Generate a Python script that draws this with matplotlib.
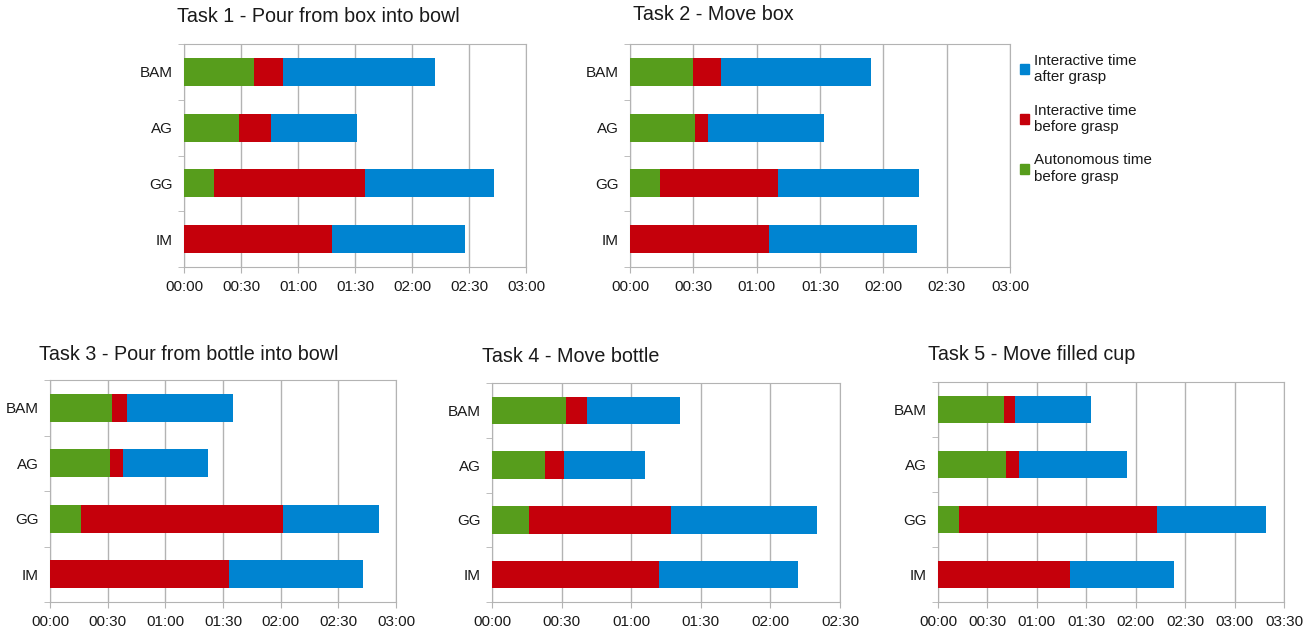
import matplotlib
matplotlib.use("Agg")
import matplotlib.pyplot as plt
from matplotlib.patches import Patch
from matplotlib.ticker import FuncFormatter, MultipleLocator, FixedLocator

plt.rcParams['font.family'] = ['Liberation Sans', 'DejaVu Sans']

# participants (top to bottom)
participants = ["BAM", "AG", "GG", "IM"]

# durations in seconds: autonomous before grasp, interactive before grasp, interactive after grasp
task1_auto = [37, 29, 16, 0]
task1_before = [15, 17, 79, 78]
task1_after = [80, 45, 68, 70]

task2_auto = [30, 31, 14, 0]
task2_before = [13, 6, 56, 66]
task2_after = [71, 55, 67, 70]

task3_auto = [32, 31, 16, 0]
task3_before = [8, 7, 105, 93]
task3_after = [55, 44, 50, 70]

task4_auto = [32, 23, 16, 0]
task4_before = [9, 8, 61, 72]
task4_after = [40, 35, 63, 60]

task5_auto = [40, 41, 13, 0]
task5_before = [7, 8, 120, 80]
task5_after = [46, 66, 66, 63]

titles = ["Task 1 - Pour from box into bowl", "Task 2 - Move box",
          "Task 3 - Pour from bottle into bowl", "Task 4 - Move bottle",
          "Task 5 - Move filled cup"]
xmax = [180, 180, 180, 150, 210]

green = "#579d1c"
red = "#c5000b"
blue = "#0084d1"
grey = "#b3b3b3"
txt = "#1a1a1a"

W, H = 1316, 630
fig = plt.figure(figsize=(W / 100, H / 100), dpi=100)


def px_rect(x0, y0, x1, y1):
    return [x0 / W, 1 - y1 / H, (x1 - x0) / W, (y1 - y0) / H]


axes_px = [(184, 44, 526, 267), (630, 44, 1010, 267),
           (50, 380, 396, 602), (492, 383, 840, 602), (938, 382, 1284, 602)]
title_px = [(177, 17), (633, 15), (39, 354), (482, 356), (928, 355)]

data = [(task1_auto, task1_before, task1_after),
        (task2_auto, task2_before, task2_after),
        (task3_auto, task3_before, task3_after),
        (task4_auto, task4_before, task4_after),
        (task5_auto, task5_before, task5_after)]


def mmss(v, pos):
    v = int(round(v))
    return f"{v // 60:02d}:{v % 60:02d}"


for i, (auto, before, after) in enumerate(data):
    ax = fig.add_axes(px_rect(*axes_px[i]))
    y = list(range(len(participants)))
    left2 = [a + b for a, b in zip(auto, before)]
    ax.barh(y, auto, height=0.5, color=green, zorder=3)
    ax.barh(y, before, left=auto, height=0.5, color=red, zorder=3)
    ax.barh(y, after, left=left2, height=0.5, color=blue, zorder=3)

    ax.set_ylim(3.5, -0.5)
    ax.set_xlim(0, xmax[i])
    ax.set_yticks(y)
    ax.set_yticklabels(participants)
    ax.yaxis.set_minor_locator(FixedLocator([-0.5, 0.5, 1.5, 2.5, 3.5]))
    ax.tick_params(axis='y', which='major', length=0, pad=8, labelsize=11, labelcolor=txt)
    ax.tick_params(axis='y', which='minor', length=4, color=grey, direction='out')
    ax.xaxis.set_major_locator(MultipleLocator(30))
    ax.xaxis.set_major_formatter(FuncFormatter(mmss))
    ax.tick_params(axis='x', length=4, color=grey, pad=5, labelsize=11, labelcolor=txt)
    ax.grid(axis='x', color=grey, linewidth=1, zorder=0)
    for s in ax.spines.values():
        s.set_color(grey)
        s.set_linewidth(0.8)
    fig.text(title_px[i][0] / W, 1 - title_px[i][1] / H, titles[i],
             fontsize=14.2, color=txt, ha='left', va='center')

handles = [Patch(color=blue), Patch(color=red), Patch(color=green)]
labels = ["Interactive time\nafter grasp", "Interactive time\nbefore grasp",
          "Autonomous time\nbefore grasp"]
fig.legend(handles, labels, loc='upper left', bbox_to_anchor=(1006 / W, 1 - 40 / H),
           frameon=False, fontsize=10.9, handlelength=0.65, handleheight=0.65,
           handletextpad=0.3, labelspacing=1.3, labelcolor=txt)

fig.savefig("out.png", dpi=100)
